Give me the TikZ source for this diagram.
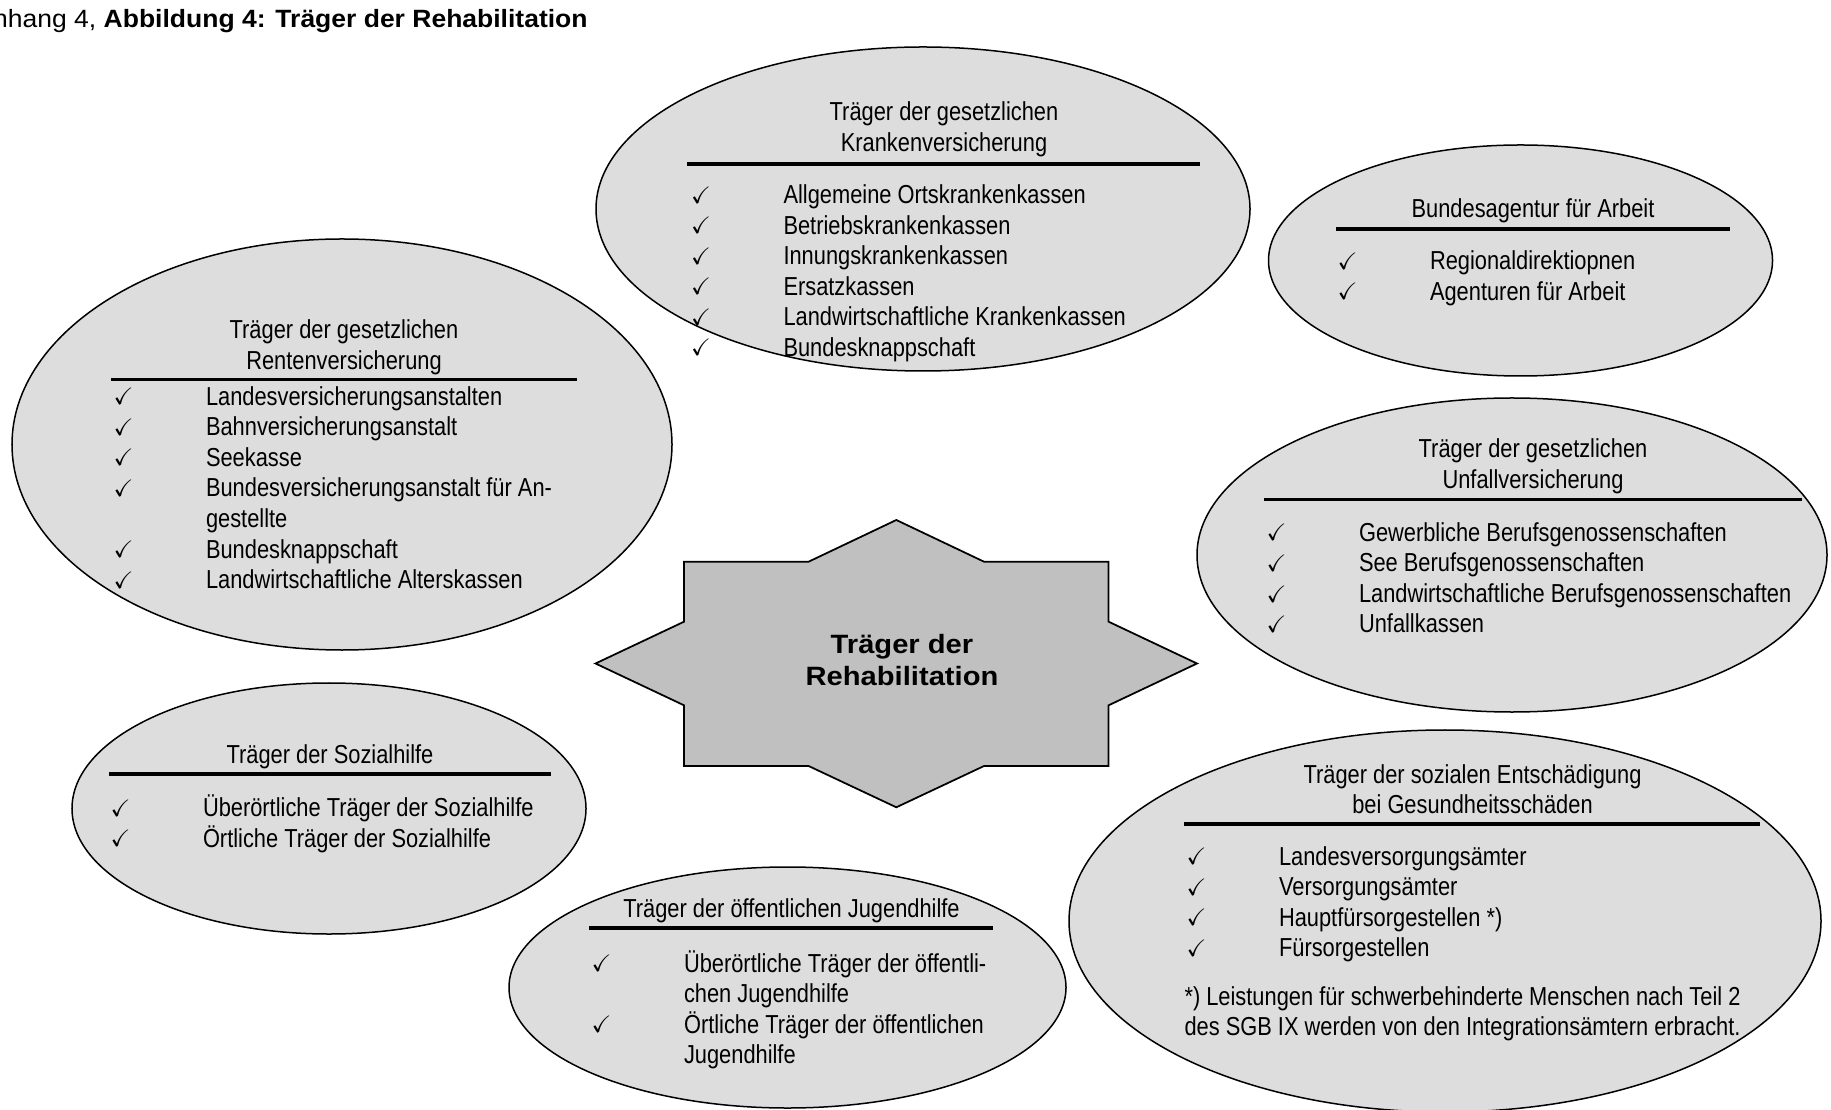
\documentclass[tikz,border=0pt]{standalone}
\usepackage{amssymb}
\usepackage{fontspec}
\usetikzlibrary{shapes.geometric}
\setmainfont{Liberation Sans}
\newfontfamily\narrowfont{Liberation Sans}[FakeStretch=0.84]
\newfontfamily\titlefont{Liberation Sans}[FakeStretch=1.06]
\newfontfamily\starfont{Liberation Sans}[FakeStretch=1.1]
\definecolor{ellfill}{HTML}{DDDDDD}
\definecolor{starfill}{HTML}{C0C0C0}
\newlength{\ckw}\setlength{\ckw}{37pt}
\newcommand{\bodyfont}{\narrowfont\fontsize{10.4pt}{12.2pt}\selectfont}
\newcommand{\stackln}[1]{\vtop{\lineskiplimit=-100pt\lineskip=0pt #1}}
\newcommand{\ckmark}{\raisebox{0.2pt}{\fontsize{9.5pt}{10pt}\selectfont$\checkmark$}}
\newcommand{\itemln}[1]{\hbox{\makebox[\ckw][l]{\ckmark}#1}}
\newcommand{\contln}[1]{\hbox{\hspace*{\ckw}#1}}
\newcommand{\plainln}[1]{\hbox{#1}}
\newcommand{\headln}[1]{\hbox to 0pt{\hss#1\hss}}
\tikzset{
  bubble/.style={ellipse, draw, line width=0.6pt, fill=ellfill, inner sep=0pt, outer sep=0pt},
  starsty/.style={draw, line width=0.7pt, fill=starfill, line join=miter},
  rulesty/.style={line width=1.4pt},
  txt/.style={inner sep=0pt, font=\bodyfont, anchor=base west},
  hd/.style={inner sep=0pt, font=\bodyfont, anchor=base},
}
\begin{document}
\begin{tikzpicture}[x=0.4pt,y=-0.4pt]
\useasboundingbox (0,0) rectangle (1831,1110);
\clip (0,0) rectangle (1831,1110);
\fill[white] (0,0) rectangle (1831,1110);

% title
\node[inner sep=0pt, anchor=base west, font=\titlefont\fontsize{10pt}{12pt}\selectfont] (title) at (-25,28)
  {Anhang 4, \textbf{Abbildung 4: Träger der Rehabilitation}};

% ellipses
\node[bubble, minimum width=261.6pt, minimum height=129.6pt] (kv) at (923,209) {};
\node[bubble, minimum width=201.6pt, minimum height=92.4pt] (ba) at (1520.5,260.5) {};
\node[bubble, minimum width=264pt, minimum height=164.4pt] (rv) at (342,444.5) {};
\node[bubble, minimum width=252pt, minimum height=125.6pt] (uv) at (1512,555) {};
\node[bubble, minimum width=205.6pt, minimum height=100.4pt] (sh) at (329,808.5) {};
\node[bubble, minimum width=222.8pt, minimum height=96.4pt] (jh) at (787.5,987.5) {};
\node[bubble, minimum width=300.8pt, minimum height=152.8pt] (se) at (1445,921) {};

% star
\draw[starsty] (595.5,663.5) -- (684,621.7) -- (684,561.7) -- (808.6,561.7) -- (896.3,520)
  -- (984,561.7) -- (1108.6,561.7) -- (1108.6,621.7) -- (1197,663.5) -- (1108.6,705.3)
  -- (1108.6,766) -- (984,766) -- (896.3,807.3) -- (808.6,766) -- (684,766) -- (684,705.3) -- cycle;
\node[inner sep=0pt, anchor=base, font=\starfont\bfseries\fontsize{10.6pt}{13pt}\selectfont] (center) at (902,653)
  {\stackln{\headln{Träger der}\headln{Rehabilitation}}};

% Krankenversicherung
\node[hd] (kvh) at (944,121) {\stackln{\headln{Träger der gesetzlichen}\headln{Krankenversicherung}}};
\draw[rulesty] (687,164) -- (1200,164);
\node[txt] (kvi) at (690.5,204) {\stackln{%
  \itemln{Allgemeine Ortskrankenkassen}
  \itemln{Betriebskrankenkassen}
  \itemln{Innungskrankenkassen}
  \itemln{Ersatzkassen}
  \itemln{Landwirtschaftliche Krankenkassen}
  \itemln{Bundesknappschaft}}};

% Bundesagentur
\node[hd] (bah) at (1533,218) {Bundesagentur für Arbeit};
\draw[rulesty] (1336,229) -- (1730,229);
\node[txt] (bai) at (1337,270) {\stackln{%
  \itemln{Regionaldirektiopnen}
  \itemln{Agenturen für Arbeit}}};

% Rentenversicherung
\node[hd] (rvh) at (344,339) {\stackln{\headln{Träger der gesetzlichen}\headln{Rentenversicherung}}};
\draw[rulesty] (111,379.3) -- (577,379.3);
\node[txt] (rvi) at (113,405.5) {\stackln{%
  \itemln{Landesversicherungsanstalten}
  \itemln{Bahnversicherungsanstalt}
  \itemln{Seekasse}
  \itemln{Bundesversicherungsanstalt für An-}
  \contln{gestellte}
  \itemln{Bundesknappschaft}
  \itemln{Landwirtschaftliche Alterskassen}}};

% Unfallversicherung
\node[hd] (uvh) at (1533,458) {\stackln{\headln{Träger der gesetzlichen}\headln{Unfallversicherung}}};
\draw[rulesty] (1264,499.3) -- (1802,499.3);
\node[txt] (uvi) at (1266,541.5) {\stackln{%
  \itemln{Gewerbliche Berufsgenossenschaften}
  \itemln{See Berufsgenossenschaften}
  \itemln{Landwirtschaftliche Berufsgenossenschaften}
  \itemln{Unfallkassen}}};

% Sozialhilfe
\node[hd] (shh) at (330,763) {Träger der Sozialhilfe};
\draw[rulesty] (109,774) -- (551,774);
\node[txt] (shi) at (110,816.5) {\stackln{%
  \itemln{Überörtliche Träger der Sozialhilfe}
  \itemln{Örtliche Träger der Sozialhilfe}}};

% Jugendhilfe
\node[hd] (jhh) at (791.5,917) {Träger der öffentlichen Jugendhilfe};
\draw[rulesty] (589,928) -- (993,928);
\node[txt] (jhi) at (591,972) {\stackln{%
  \itemln{Überörtliche Träger der öffentli-}
  \contln{chen Jugendhilfe}
  \itemln{Örtliche Träger der öffentlichen}
  \contln{Jugendhilfe}}};

% Soziale Entschädigung
\node[hd] (seh) at (1472.5,783) {\stackln{\headln{Träger der sozialen Entschädigung}\headln{bei Gesundheitsschäden}}};
\draw[rulesty] (1184,824) -- (1760,824);
\node[txt] (sei) at (1186,865) {\stackln{%
  \itemln{Landesversorgungsämter}
  \itemln{Versorgungsämter}
  \itemln{Hauptfürsorgestellen *)}
  \itemln{Fürsorgestellen}}};
\node[txt] (sen) at (1184,1005) {\stackln{%
  \plainln{*) Leistungen für schwerbehinderte Menschen nach Teil 2}
  \plainln{des SGB IX werden von den Integrationsämtern erbracht.}}};
\end{tikzpicture}
\end{document}
